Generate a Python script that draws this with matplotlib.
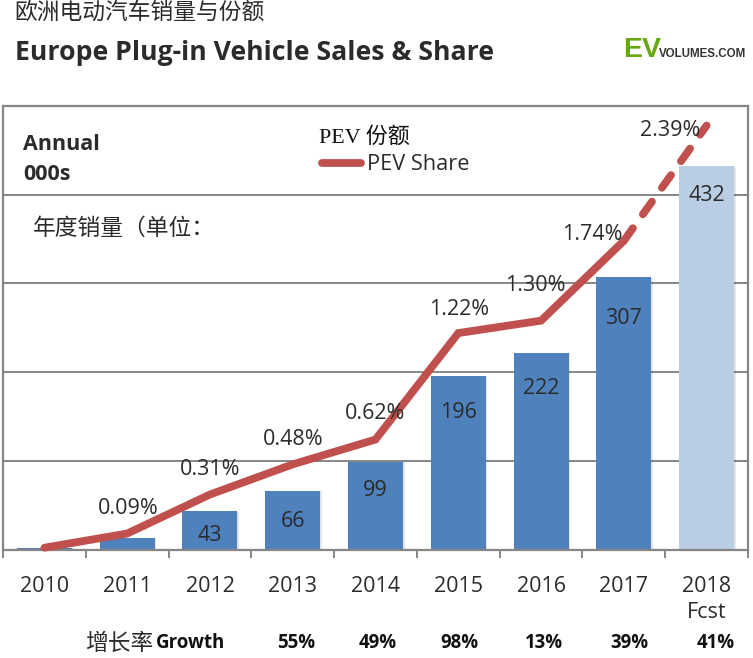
"""Europe plug-in vehicle sales (bars) and market share (line)."""
import matplotlib

matplotlib.use("Agg")
import matplotlib.patheffects as pe
import matplotlib.pyplot as plt

W, H = 753, 658

YEARS = ["2010", "2011", "2012", "2013", "2014", "2015", "2016", "2017", "2018\nFcst"]
SALES = [2, 13, 43, 66, 99, 196, 222, 307, 432]
SHARE = [0.01, 0.09, 0.31, 0.48, 0.62, 1.22, 1.29, 1.74, 2.39]
SHARE_LABELS = ["", "0.09%", "0.31%", "0.48%", "0.62%", "1.22%", "1.30%", "1.74%", "2.39%"]
SALES_LABELS = ["", "", "43", "66", "99", "196", "222", "307", "432"]
GROWTH = ["55%", "49%", "98%", "13%", "39%", "41%"]

BAR = "#4f81bd"
BAR_FCST = "#b9cde5"
LINE = "#c0504d"
GRID = "#868686"
TEXT = "#2b2b2b"

SANS = ["Open Sans", "DejaVu Sans"]
CJK = ["Noto Sans CJK SC", "DejaVu Sans"]

# label nudges in pixels, (x, y) from the point / bar top
SHARE_NUDGE = [(0, 0), (1, 25), (0, 25), (0, 25), (0, 26), (1, 24), (-6, 35), (-32, 6), (-36, -5)]
SALES_NUDGE = [0, 0, 24, 31, 29, 37, 36, 41, 29]
GROWTH_X = [296, 378, 459, 544, 629, 716]


def px(x, y):
    return x / W, 1 - y / H


def main():
    fig = plt.figure(figsize=(W / 100, H / 100), dpi=100)
    ax = fig.add_axes([3 / W, 1 - 549.5 / H, 745 / W, 443.5 / H])
    x = list(range(len(YEARS)))

    shadow = [pe.SimplePatchShadow(offset=(1.2, -0.3), shadow_rgbFace="#000000", alpha=0.1), pe.Normal()]
    bars = ax.bar(x, SALES, width=0.665, color=[BAR] * 8 + [BAR_FCST], zorder=2)
    for b in bars:
        b.set_path_effects(shadow)

    ax.set_xlim(-0.5, 8.5)
    ax.set_ylim(0, 500)
    ax.set_yticks([100, 200, 300, 400])
    ax.tick_params(axis="y", length=0, labelleft=False)
    ax.grid(axis="y", color=GRID, linewidth=1.4, zorder=1)
    ax.set_axisbelow(True)
    ax.set_xticks(x)
    ax.set_xticklabels(YEARS, fontsize=15.5, family=SANS, color=TEXT, linespacing=1.3)
    ax.tick_params(axis="x", length=0, pad=19)
    ax.set_xticks([i - 0.5 for i in range(10)], minor=True)
    ax.tick_params(axis="x", which="minor", length=6, width=1.4, color=GRID)
    for spine in ax.spines.values():
        spine.set_color(GRID)
        spine.set_linewidth(1.6)

    ax2 = ax.twinx()
    ax2.set_ylim(0, 2.5)
    ax2.set_yticks([])
    for spine in ax2.spines.values():
        spine.set_visible(False)
    solid, = ax2.plot(x[:8], SHARE[:8], color=LINE, linewidth=5.6,
                      solid_capstyle="round", solid_joinstyle="miter",
                      label="PEV Share", clip_on=False, zorder=3)
    ax2.plot(x[7:], SHARE[7:], color=LINE, linewidth=5.6, linestyle=(0, (2.0, 2.2)),
             dash_capstyle="round", clip_on=False, zorder=3)

    for i, (lab, (dx, dy)) in enumerate(zip(SHARE_LABELS, SHARE_NUDGE)):
        if lab:
            ax2.annotate(lab, (i, SHARE[i]), xytext=(dx * 0.72, dy * 0.72),
                         textcoords="offset points", ha="center", va="center",
                         fontsize=15.5, family=SANS, color=TEXT, zorder=4)
    for i, (lab, dy) in enumerate(zip(SALES_LABELS, SALES_NUDGE)):
        if lab:
            ax.annotate(lab, (i, SALES[i]), xytext=(0, -dy * 0.72),
                        textcoords="offset points", ha="center", va="center",
                        fontsize=15.5, family=SANS, color=TEXT, zorder=5)

    fig.legend(handles=[solid], loc="center left", bbox_to_anchor=px(322, 165),
               frameon=False, borderpad=0, borderaxespad=0, handlelength=1.8,
               handletextpad=0.25, prop={"family": SANS, "size": 15.7},
               labelcolor=TEXT)

    fig.text(*px(14, 12), "欧洲电动汽车销量与份额", family=CJK, fontsize=16.4,
             fontweight="light", color=TEXT, ha="left", va="center")
    fig.text(*px(15, 53), "Europe Plug-in Vehicle Sales & Share", family=SANS,
             fontsize=19.2, fontweight="bold", color=TEXT, ha="left", va="center")

    fig.text(*px(23, 145), "Annual", family=SANS, fontsize=15.5, fontweight="bold", color=TEXT, va="center")
    fig.text(*px(23, 175), "000s", family=SANS, fontsize=15.5, fontweight="bold", color=TEXT, va="center")
    fig.text(*px(33, 228), "年度销量（单位：", family=CJK, fontsize=16.4, fontweight="light", color=TEXT, va="center")
    fig.text(*px(319, 137), "PEV 份额", family=["Liberation Serif", "Noto Sans CJK SC"], fontsize=15.8,
             color="#111111", va="center")

    # logo
    fig.text(*px(623, 57), "EV", family="Liberation Sans", fontsize=20.5,
             fontweight="bold", color="#66a80f", va="baseline")
    fig.text(*px(659, 57), "VOLUMES.COM", family="Liberation Sans", fontsize=8.3,
             fontweight="bold", color="#333333", va="baseline")

    # growth row
    fig.text(*px(85, 643), "增长率", family=CJK, fontsize=16.4, fontweight="light", color=TEXT, va="center")
    fig.text(*px(156, 643), "Growth", family=SANS, fontsize=13.4, fontweight="bold", color="#111111", va="center")
    for gx, g in zip(GROWTH_X, GROWTH):
        fig.text(*px(gx, 643), g, family=SANS, fontsize=13.4, fontweight="bold",
                 color="#111111", ha="center", va="center")

    fig.savefig("out.png", dpi=100)


if __name__ == "__main__":
    main()
